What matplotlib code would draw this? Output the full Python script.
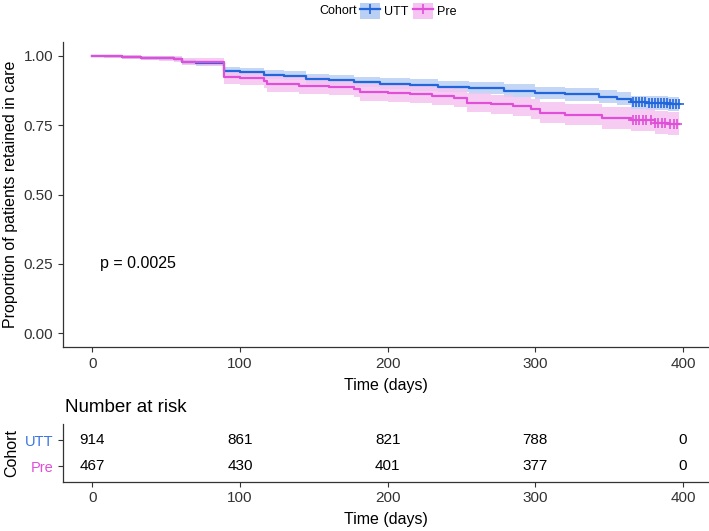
import numpy as np
import matplotlib
matplotlib.use("Agg")
import matplotlib.pyplot as plt
from matplotlib.patches import Patch
from matplotlib.lines import Line2D

plt.rcParams["font.family"] = ["Liberation Sans", "DejaVu Sans"]

# Kaplan-Meier steps
utt_t = [0, 8, 20, 33, 45, 55, 61, 70, 80, 89, 100, 116, 130, 145, 160, 177, 195,
         215, 234, 255, 279, 300, 320, 343, 355, 365, 375, 390]
utt_s = [1.000, 0.998, 0.996, 0.994, 0.992, 0.990, 0.977, 0.975, 0.973, 0.944, 0.942,
         0.932, 0.929, 0.917, 0.913, 0.905, 0.900, 0.895, 0.889, 0.884, 0.875, 0.866,
         0.861, 0.853, 0.845, 0.833, 0.830, 0.826]
utt_ci = [0.0, 0.003, 0.004, 0.005, 0.006, 0.006, 0.010, 0.010, 0.011, 0.015, 0.015,
          0.016, 0.017, 0.018, 0.018, 0.019, 0.020, 0.020, 0.021, 0.021, 0.022, 0.022,
          0.023, 0.023, 0.024, 0.024, 0.025, 0.026]

pre_t = [0, 8, 20, 33, 45, 55, 61, 75, 89, 100, 116, 118, 140, 160, 177, 181, 200,
         215, 230, 245, 254, 270, 285, 297, 303, 320, 345, 365, 381, 390]
pre_s = [1.000, 0.998, 0.996, 0.993, 0.991, 0.989, 0.979, 0.977, 0.923, 0.920, 0.911,
         0.898, 0.893, 0.889, 0.880, 0.868, 0.866, 0.861, 0.855, 0.847, 0.831, 0.825,
         0.818, 0.810, 0.795, 0.788, 0.775, 0.769, 0.759, 0.755]
pre_ci = [0.0, 0.004, 0.006, 0.008, 0.009, 0.010, 0.013, 0.014, 0.024, 0.025, 0.026,
          0.028, 0.029, 0.029, 0.030, 0.031, 0.031, 0.032, 0.032, 0.033, 0.034, 0.035,
          0.035, 0.036, 0.037, 0.038, 0.039, 0.040, 0.041, 0.042]

end_time = 397
censor_utt = [366, 368, 370, 372, 374, 377, 379, 381, 383, 385, 387, 389, 391, 393, 395, 397]
censor_pre = [366, 368, 370, 373, 375, 378, 381, 383, 386, 388, 391, 394, 396]

risk_times = [0, 100, 200, 300, 400]
risk_utt = [914, 861, 821, 788, 0]
risk_pre = [467, 430, 401, 377, 0]
p_text = "p = 0.0025"

blue, pink = "#2166DB", "#E04FD8"
blue_fill, pink_fill = "#B9CFF4", "#F6C4F2"
dark = "#333333"

fig = plt.figure(figsize=(7.09, 5.31), dpi=100)
ax = fig.add_axes([63 / 709, 1 - 347 / 531, 645 / 709, 305 / 531])
ax2 = fig.add_axes([63 / 709, 1 - 481.6 / 531, 645 / 709, 57.2 / 531])

for t, s, ci, cen, col, fc in [(utt_t, utt_s, utt_ci, censor_utt, blue, blue_fill),
                               (pre_t, pre_s, pre_ci, censor_pre, pink, pink_fill)]:
    t = np.r_[t, end_time]
    s = np.r_[s, s[-1]]
    ci = np.r_[ci, ci[-1]]
    ax.fill_between(t, s - ci, s + ci, step="post", color=fc, lw=0, alpha=0.85)
    ax.step(t, s, where="post", color=col, lw=1.6)
    idx = np.searchsorted(t, cen, side="right") - 1
    ax.plot(cen, s[idx], ls="none", marker="+", ms=7, mew=1.2, color=col)

ax.text(5, 0.25, p_text, fontsize=11.5, va="center", ha="left", color="black")

for a in (ax, ax2):
    a.set_xlim(-19.85, 416.85)
    a.spines[["top", "right"]].set_visible(False)
    a.spines[["left", "bottom"]].set_color(dark)
    a.spines[["left", "bottom"]].set_linewidth(0.9)
    a.tick_params(length=3.5, width=0.8, color=dark, labelsize=11, labelcolor=dark)
    a.set_xticks(risk_times)

ax.set_ylim(-0.05, 1.05)
ax.set_yticks([0, 0.25, 0.5, 0.75, 1.0])
ax.set_yticklabels(["0.00", "0.25", "0.50", "0.75", "1.00"])
ax.set_ylabel("Proportion of patients retained in care", fontsize=11.5, labelpad=4)
ax.set_xlabel("Time (days)", fontsize=11.5, labelpad=5)

ax2.set_ylim(0.4, 2.6)
ax2.set_yticks([1, 2])
ax2.set_yticklabels(["Pre", "UTT"], fontsize=10.5)
for lab, col in zip(ax2.get_yticklabels(), [pink, "#3B74E0"]):
    lab.set_color(col)
ax2.set_ylabel("Cohort", fontsize=11.5, labelpad=4)
ax2.set_xlabel("Time (days)", fontsize=11.5, labelpad=5)
for x, u, p in zip(risk_times, risk_utt, risk_pre):
    ax2.text(x, 2, str(u), ha="center", va="center", fontsize=11, color="black")
    ax2.text(x, 1, str(p), ha="center", va="center", fontsize=11, color="black")

fig.text(65 / 709, 1 - 408 / 531, "Number at risk", fontsize=13.5, va="center", ha="left")

# legend at top
handles = [(Patch(facecolor=blue_fill, edgecolor="none"),
            Line2D([], [], color=blue, lw=1.6, marker="+", ms=7, mew=1.2)),
           (Patch(facecolor=pink_fill, edgecolor="none"),
            Line2D([], [], color=pink, lw=1.6, marker="+", ms=7, mew=1.2))]
fig.legend(handles, ["UTT", "Pre"], loc="center left", bbox_to_anchor=(360 / 709, 1 - 11 / 531),
           ncol=2, frameon=False, fontsize=9, handlelength=1.6, handleheight=1.6,
           columnspacing=0.4, handletextpad=0.3, borderaxespad=0, borderpad=0)
fig.text(319 / 709, 1 - 11 / 531, "Cohort", fontsize=9, va="center", ha="left")

fig.savefig("out.png", dpi=100)
